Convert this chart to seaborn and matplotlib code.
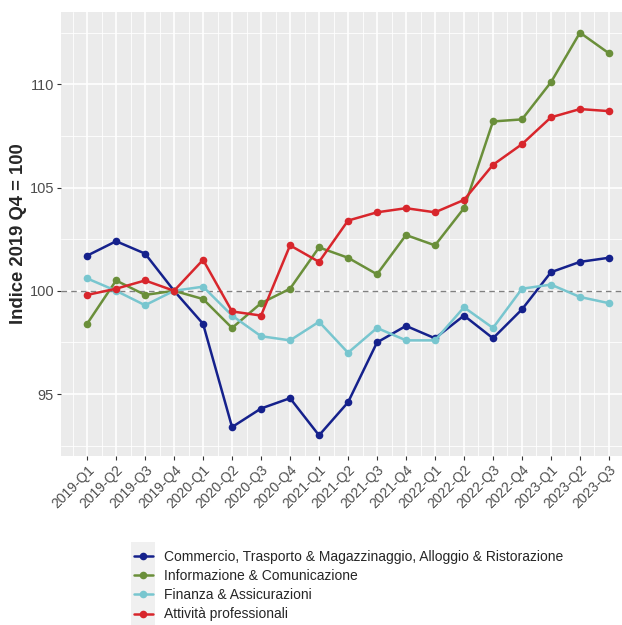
import numpy as np
import pandas as pd
import matplotlib
matplotlib.use("Agg")
import matplotlib.pyplot as plt
import seaborn as sns
from matplotlib.patches import Rectangle

#%% Data

trimestri = ["2019-Q1", "2019-Q2", "2019-Q3", "2019-Q4",
             "2020-Q1", "2020-Q2", "2020-Q3", "2020-Q4",
             "2021-Q1", "2021-Q2", "2021-Q3", "2021-Q4",
             "2022-Q1", "2022-Q2", "2022-Q3", "2022-Q4",
             "2023-Q1", "2023-Q2", "2023-Q3"]

commercio = [101.7, 102.4, 101.8, 100.0, 98.4, 93.4, 94.3, 94.8, 93.0, 94.6,
             97.5, 98.3, 97.7, 98.8, 97.7, 99.1, 100.9, 101.4, 101.6]
informazione = [98.4, 100.5, 99.8, 100.0, 99.6, 98.2, 99.4, 100.1, 102.1, 101.6,
                100.8, 102.7, 102.2, 104.0, 108.2, 108.3, 110.1, 112.5, 111.5]
finanza = [100.6, 100.0, 99.3, 100.0, 100.2, 98.8, 97.8, 97.6, 98.5, 97.0,
           98.2, 97.6, 97.6, 99.2, 98.2, 100.1, 100.3, 99.7, 99.4]
professionali = [99.8, 100.1, 100.5, 100.0, 101.5, 99.0, 98.8, 102.2, 101.4, 103.4,
                 103.8, 104.0, 103.8, 104.4, 106.1, 107.1, 108.4, 108.8, 108.7]

serie = ["Commercio, Trasporto & Magazzinaggio, Alloggio & Ristorazione",
         "Informazione & Comunicazione",
         "Finanza & Assicurazioni",
         "Attività professionali"]
colori = ["#15218C", "#6A8F3A", "#78C6CF", "#D8262C"]

#%% Long dataframe

df = pd.DataFrame({
    "trimestre": trimestri * 4,
    "pos": list(range(len(trimestri))) * 4,
    "indice": commercio + informazione + finanza + professionali,
    "settore": np.repeat(serie, len(trimestri)),
})

#%% Plot

sns.set_theme(style="darkgrid")
plt.rcParams["font.family"] = ["Liberation Sans", "DejaVu Sans"]

fig = plt.figure(figsize=(6.22, 6.25), dpi=100)
ax = fig.add_axes([61 / 622, 1 - 456 / 625, 561 / 622, 444 / 625])
ax.set_facecolor("#EBEBEB")

# grid like ggplot (major + minor)
n = len(trimestri)
for x in np.arange(-0.5, n, 1.0):
    ax.axvline(x, color="white", lw=0.6, zorder=0)
for x in range(n):
    ax.axvline(x, color="white", lw=1.2, zorder=0)
for y in [92.5, 97.5, 102.5, 107.5, 112.5]:
    ax.axhline(y, color="white", lw=0.6, zorder=0)
for y in [95, 100, 105, 110]:
    ax.axhline(y, color="white", lw=1.2, zorder=0)
ax.grid(False)

ax.axhline(100, color="#808080", lw=1.0, ls=(0, (4, 3)), zorder=1)

sns.lineplot(data=df, x="pos", y="indice", hue="settore", palette=colori,
             hue_order=serie, marker="o", markersize=5.5, markeredgewidth=0,
             linewidth=1.8, ax=ax, zorder=3)

ax.set_xlim(-0.9, 18.45)
ax.set_ylim(92.0, 113.5)
ax.set_xticks(range(n))
ax.set_xticklabels(trimestri, rotation=45, ha="right", rotation_mode="anchor",
                   fontsize=10, color="#4D4D4D")
ax.set_yticks([95, 100, 105, 110])
ax.set_yticklabels(["95", "100", "105", "110"], fontsize=10.5, color="#4D4D4D")
ax.tick_params(axis="both", length=3, width=0.8, color="#333333", pad=2,
               bottom=True, left=True)
ax.set_xlabel("")
ax.set_ylabel("Indice 2019 Q4 = 100", fontsize=13.3, fontweight="bold",
              labelpad=2)
for s in ax.spines.values():
    s.set_visible(False)

# legend keys background (ggplot style)
fig.patches.append(Rectangle((131 / 622, 0), 24 / 622, 83 / 625,
                             transform=fig.transFigure, facecolor="#F0F0F0",
                             edgecolor="none", zorder=0))

handles, labels = ax.get_legend_handles_labels()
ax.legend_.remove()
fig.legend(handles, labels, loc="upper left", bbox_to_anchor=(128 / 622, 1 - 544 / 625),
           frameon=False, fontsize=10, handlelength=1.4, labelspacing=0.38,
           handletextpad=0.8, borderaxespad=0)

fig.savefig("out.png", dpi=100)
